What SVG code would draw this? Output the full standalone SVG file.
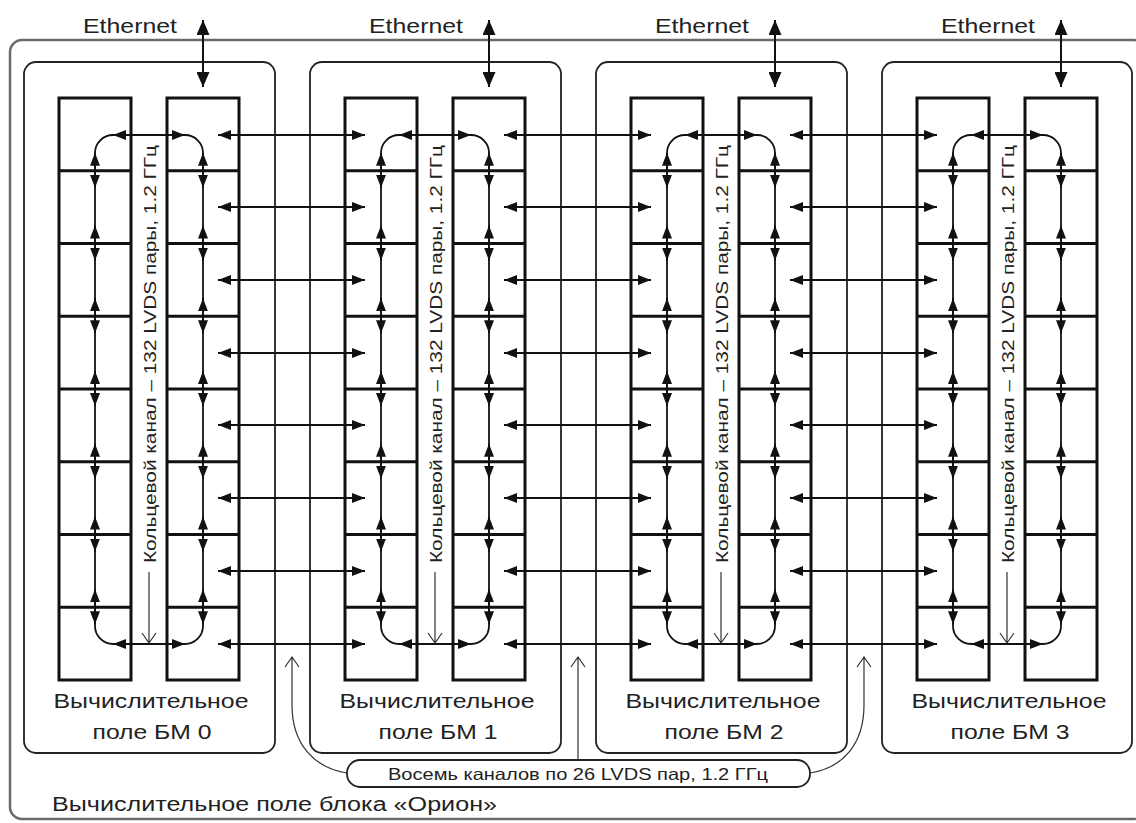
<svg xmlns="http://www.w3.org/2000/svg" xmlns:xlink="http://www.w3.org/1999/xlink" width="1136" height="823" viewBox="0 0 1136 823">
<style>
.outer{fill:none;stroke:#6a6a6a;stroke-width:2.5}
.blk{fill:none;stroke:#222;stroke-width:1.8}
.col{fill:none;stroke:#111;stroke-width:3}
.ln{fill:none;stroke:#111;stroke-width:1.8}
.da{marker-start:url(#ah);marker-end:url(#ah)}
.eth{fill:none;stroke:#111;stroke-width:2;marker-start:url(#ahE);marker-end:url(#ahE)}
.thin{fill:none;stroke:#333;stroke-width:1.2}
text{font-family:"Liberation Sans",Arial,sans-serif;fill:#222}
.lbl{font-size:21px;text-anchor:middle}
.eth-t{font-size:21px;text-anchor:middle}
.ring-t{font-size:17px}
</style>
<defs>
<marker id="ah" viewBox="0 0 13 10" markerWidth="13" markerHeight="10" refX="13" refY="5" orient="auto-start-reverse" markerUnits="userSpaceOnUse"><path d="M0,0L13,5L0,10z" fill="#111"/></marker>
<marker id="ahE" viewBox="0 0 15 13" markerWidth="15" markerHeight="13" refX="15" refY="6.5" orient="auto-start-reverse" markerUnits="userSpaceOnUse"><path d="M0,0L15,6.5L0,13z" fill="#111"/></marker>
<g id="col"><rect class="col" x="0" y="0" width="72" height="582"/><path class="col" d="M0,72.75H72M0,145.5H72M0,218.25H72M0,291H72M0,363.75H72M0,436.5H72M0,509.25H72"/></g>
<g id="vlinks">
<path class="ln" d="M0,153V626"/>
<path class="ln da" d="M0,152.75V187.75"/>
<path class="ln da" d="M0,225.5V260.5"/>
<path class="ln da" d="M0,298.25V333.25"/>
<path class="ln da" d="M0,371V406"/>
<path class="ln da" d="M0,443.75V478.75"/>
<path class="ln da" d="M0,516.5V551.5"/>
<path class="ln da" d="M0,589.25V624.25"/>
</g>
<g id="ring">
<use href="#vlinks" x="95"/>
<use href="#vlinks" x="203"/>
<path class="ln" d="M95,153A18,18 0 0 1 113,135M185,135A18,18 0 0 1 203,153M95,626A18,18 0 0 0 113,644M185,644A18,18 0 0 0 203,626"/>
<path class="ln da" d="M113,135H185"/>
<path class="ln da" d="M113,644H185"/>
<path class="eth" d="M203,20V87"/>
<path class="thin" d="M149,572V643M142,633L149,643L156,633"/>
</g>
<g id="bridge">
<path class="ln da" d="M218,135H365"/>
<path class="ln da" d="M218,207H365"/>
<path class="ln da" d="M218,280H365"/>
<path class="ln da" d="M218,353H365"/>
<path class="ln da" d="M218,425H365"/>
<path class="ln da" d="M218,498H365"/>
<path class="ln da" d="M218,571H365"/>
<path class="ln da" d="M218,644H365"/>
</g>
</defs>
<rect width="1136" height="823" fill="#fff"/>
<g id="orion-field">
<rect class="outer" x="10" y="40" width="1136" height="779" rx="12"/>
<text x="52" y="811" font-size="20" textLength="445" lengthAdjust="spacingAndGlyphs">Вычислительное поле блока «Орион»</text>
</g>
<g id="bm0">
<rect class="blk" x="24" y="62" width="251" height="691" rx="12"/>
<use href="#col" x="59" y="98"/><use href="#col" x="167" y="98"/>
<text class="eth-t" x="130" y="33" textLength="94" lengthAdjust="spacingAndGlyphs">Ethernet</text>
<text class="ring-t" transform="translate(156,563) rotate(-90)" textLength="418" lengthAdjust="spacingAndGlyphs">Кольцевой канал – 132 LVDS пары, 1.2 ГГц</text>
<text class="lbl" x="151" y="708" textLength="195" lengthAdjust="spacingAndGlyphs">Вычислительное</text>
<text class="lbl" x="152" y="739" textLength="119" lengthAdjust="spacingAndGlyphs">поле БМ 0</text>
</g>
<g id="bm1">
<rect class="blk" x="310" y="62" width="251" height="691" rx="12"/>
<use href="#col" x="345" y="98"/><use href="#col" x="453" y="98"/>
<text class="eth-t" x="416" y="33" textLength="94" lengthAdjust="spacingAndGlyphs">Ethernet</text>
<text class="ring-t" transform="translate(442,563) rotate(-90)" textLength="418" lengthAdjust="spacingAndGlyphs">Кольцевой канал – 132 LVDS пары, 1.2 ГГц</text>
<text class="lbl" x="437" y="708" textLength="195" lengthAdjust="spacingAndGlyphs">Вычислительное</text>
<text class="lbl" x="438" y="739" textLength="119" lengthAdjust="spacingAndGlyphs">поле БМ 1</text>
</g>
<g id="bm2">
<rect class="blk" x="596" y="62" width="251" height="691" rx="12"/>
<use href="#col" x="631" y="98"/><use href="#col" x="739" y="98"/>
<text class="eth-t" x="702" y="33" textLength="94" lengthAdjust="spacingAndGlyphs">Ethernet</text>
<text class="ring-t" transform="translate(728,563) rotate(-90)" textLength="418" lengthAdjust="spacingAndGlyphs">Кольцевой канал – 132 LVDS пары, 1.2 ГГц</text>
<text class="lbl" x="723" y="708" textLength="195" lengthAdjust="spacingAndGlyphs">Вычислительное</text>
<text class="lbl" x="724" y="739" textLength="119" lengthAdjust="spacingAndGlyphs">поле БМ 2</text>
</g>
<g id="bm3">
<rect class="blk" x="882" y="62" width="250" height="691" rx="12"/>
<use href="#col" x="917" y="98"/><use href="#col" x="1025" y="98"/>
<text class="eth-t" x="988" y="33" textLength="94" lengthAdjust="spacingAndGlyphs">Ethernet</text>
<text class="ring-t" transform="translate(1014,563) rotate(-90)" textLength="418" lengthAdjust="spacingAndGlyphs">Кольцевой канал – 132 LVDS пары, 1.2 ГГц</text>
<text class="lbl" x="1009" y="708" textLength="195" lengthAdjust="spacingAndGlyphs">Вычислительное</text>
<text class="lbl" x="1010" y="739" textLength="119" lengthAdjust="spacingAndGlyphs">поле БМ 3</text>
</g>
<g id="link-label">
<rect class="blk" x="347" y="760" width="463" height="27" rx="13"/>
<text x="388" y="780" font-size="16.5" textLength="380" lengthAdjust="spacingAndGlyphs">Восемь каналов по 26 LVDS пар, 1.2 ГГц</text>
</g>
<g id="connectors">
<use href="#ring"/>
<use href="#ring" x="286"/>
<use href="#ring" x="572"/>
<use href="#ring" x="858"/>
<use href="#bridge"/>
<use href="#bridge" x="286"/>
<use href="#bridge" x="572"/>
<path class="thin" d="M347,773C315,768 292,745 292,705V657M285,667L292,657L299,667"/>
<path class="thin" d="M578,760V657M571,667L578,657L585,667"/>
<path class="thin" d="M810,773C842,768 864,745 864,705V657M857,667L864,657L871,667"/>
</g>
</svg>
